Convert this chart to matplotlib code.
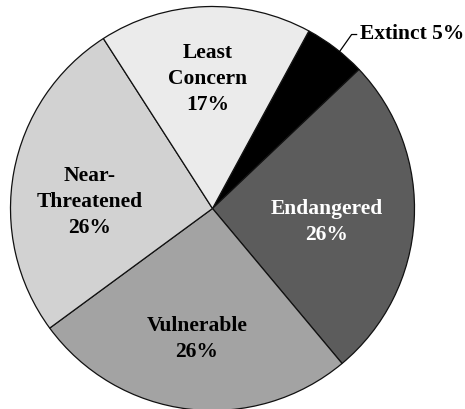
import numpy as np
import matplotlib
matplotlib.use("Agg")
import matplotlib.pyplot as plt

categories = ["Extinct", "Endangered", "Vulnerable", "Near-\nThreatened", "Least\nConcern"]
shares = [5, 26, 26, 26, 17]
colors = ["#000000", "#5c5c5c", "#a3a3a3", "#d2d2d2", "#ebebeb"]
text_colors = ["black", "white", "black", "black", "black"]

W, H = 465, 409
fig = plt.figure(figsize=(W / 100, H / 100), dpi=100)
ax = fig.add_axes([0, 0, 1, 1])

cx, cy, R = 212.5, H - 208.5, 202
wedges, _ = ax.pie(shares, colors=colors, startangle=61.5, counterclock=False,
                   center=(cx, cy), radius=R, frame=True,
                   wedgeprops=dict(edgecolor="#111111", linewidth=0.9))
ax.set_xlim(0, W)
ax.set_ylim(0, H)
ax.set_aspect("equal")
ax.axis("off")

font = dict(family="Liberation Serif", weight="bold", fontsize=15.5)

# label placement: (radius fraction, angle tweak in degrees) per wedge
placement = [None, (0.57, -3.5), (0.65, 0), (0.61, 7.5), (0.64, 0)]
for w, name, val, tc, pl in zip(wedges, categories, shares, text_colors, placement):
    if pl is None:
        continue
    frac, tweak = pl
    mid = np.deg2rad((w.theta1 + w.theta2) / 2 + tweak)
    x = cx + frac * R * np.cos(mid)
    y = cy + frac * R * np.sin(mid)
    ax.text(x, y, f"{name}\n{val}%", ha="center", va="center", color=tc,
            linespacing=1.4, **font)

# outside label for the small slice, with a leader line
w0 = wedges[0]
mid0 = np.deg2rad((w0.theta1 + w0.theta2) / 2 - 1.5)
px = cx + R * np.cos(mid0)
py = cy + R * np.sin(mid0)
ex, ey = px + 12, py + 17
ax.plot([px, ex, ex + 5], [py, ey, ey], color="black", lw=0.9)
ax.text(ex + 8, ey + 1, f"{categories[0]} {shares[0]}%", ha="left", va="center",
        color="black", **font)

fig.savefig("out.png", dpi=100)
